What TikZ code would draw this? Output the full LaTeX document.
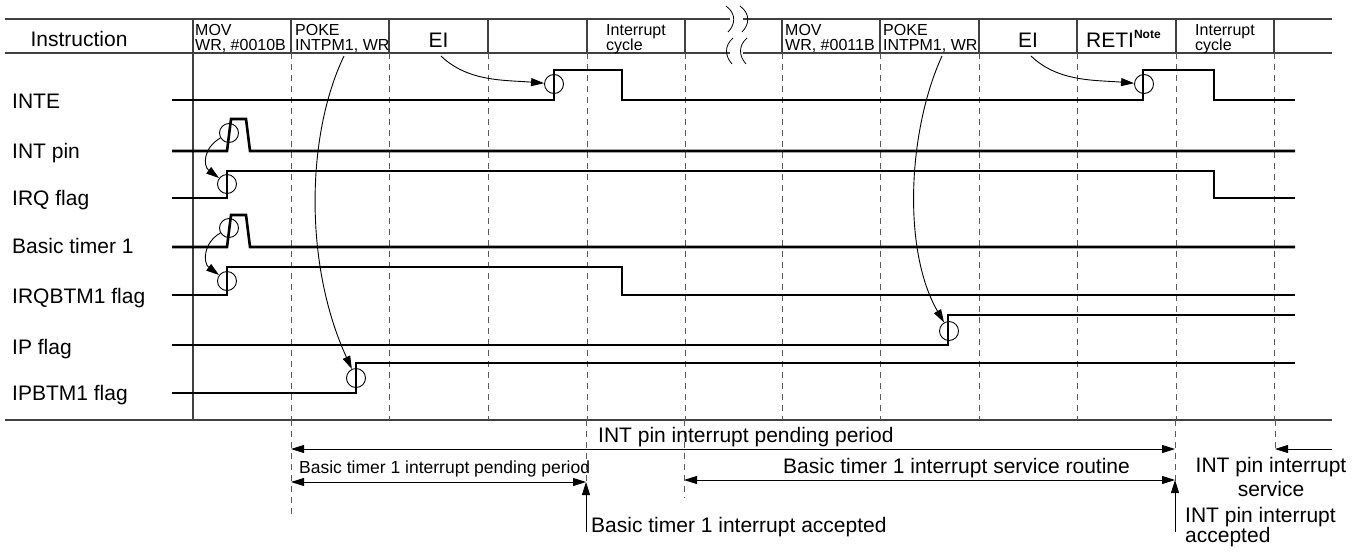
\documentclass[tikz,border=0pt]{standalone}
\usepackage{fontspec}
\setmainfont{Liberation Sans}
\usetikzlibrary{arrows.meta}
\begin{document}
\begin{tikzpicture}[x=1pt,y=-1pt,
  sig/.style={line width=2.6pt, line join=miter},
  grid/.style={line width=1.1pt, draw=black!75},
  dline/.style={draw=black!65, line width=1pt, dash pattern=on 6pt off 5pt},
  circ/.style={circle, draw, line width=0.9pt, minimum size=19pt, inner sep=0pt},
  arr/.style={-{Triangle[length=13pt,width=8pt]}, line width=0.9pt},
  darr/.style={{Triangle[length=13pt,width=8pt]}-{Triangle[length=13pt,width=8pt]}, line width=0.9pt},
  big/.style={font=\fontsize{21}{21}\selectfont, inner sep=0pt},
  small/.style={font=\fontsize{16}{15.5}\selectfont, inner sep=0pt, align=left},
  lbl/.style={font=\fontsize{21}{21}\selectfont, inner sep=0pt, anchor=base west}]
\useasboundingbox (0,0) rectangle (1364,552);

% ---------- header table ----------
\draw[grid] (5,19) -- (730,19) (743,19) -- (1332,19);
\draw[grid] (5,53) -- (730,53) (743,53) -- (1332,53);
\foreach \x in {291,389,488,587,685,782,880,979,1077,1176,1274}
  \draw[grid] (\x,19) -- (\x,53);
\draw[grid] (193,19) -- (193,420);
\draw[grid] (5,420) -- (1332,420);
% break marks
\foreach \d in {0,14}{
  \draw[line width=0.8pt] (726+\d,6) .. controls (737+\d,14) and (735+\d,25) .. (728+\d,32);
  \draw[line width=0.8pt] (733+\d,38) .. controls (724+\d,46) and (725+\d,56) .. (732+\d,64);
}

\node[big] (hInstr) at (79,38.5) {Instruction};
\node[small, anchor=north west] (hMov1) at (195,24) {MOV\\WR, \#0010B};
\node[small, anchor=north west] (hPoke1) at (295,24) {POKE\\INTPM1, WR};
\node[big] (hEI1) at (438.5,40) {EI};
\node[small, anchor=north] (hInt1) at (636,24) {Interrupt\\cycle};
\node[small, anchor=north west] (hMov2) at (785,24) {MOV\\WR, \#0011B};
\node[small, anchor=north west] (hPoke2) at (883,24) {POKE\\INTPM1, WR};
\node[big] (hEI2) at (1028,40) {EI};
\node[big, anchor=base west] (hReti) at (1086,47) {RETI\raisebox{9pt}{\fontsize{12}{12}\selectfont\bfseries Note}};
\node[small, anchor=north] (hInt2) at (1225,24) {Interrupt\\cycle};

% ---------- dashed columns ----------
\foreach \x in {291,389,488,587,685,782,880,979,1077,1176,1274}
  \draw[dline] (\x,53) -- (\x,420);
\draw[dline] (291,420) -- (291,518);
\draw[dline] (586,420) -- (586,482);
\draw[dline] (684,420) -- (684,498);
\draw[dline] (1175,420) -- (1175,482);
\draw[dline] (1275,420) -- (1275,452);

% ---------- signal labels ----------
\node[lbl] (lINTE) at (12,108.5) {INTE};
\node[lbl] (lINT) at (12,158.5) {INT pin};
\node[lbl] (lIRQ) at (12,205.5) {IRQ flag};
\node[lbl] (lBT) at (12,253.5) {Basic timer 1};
\node[lbl] (lIRQB) at (12,303.5) {IRQBTM1 flag};
\node[lbl] (lIP) at (12,354.5) {IP flag};
\node[lbl] (lIPB) at (12,400.5) {IPBTM1 flag};

% ---------- waveforms ----------
\draw[sig] (172,100) -- (554,100) -- (554,70) -- (622,70) -- (622,100) -- (1143,100) -- (1143,70) -- (1214,70) -- (1214,100) -- (1295,100);
\draw[sig] (172,151) -- (227,151) -- (231,119) -- (246,119) -- (250,151) -- (1295,151);
\draw[sig] (172,198) -- (227,198) -- (227,171) -- (1214,171) -- (1214,198) -- (1295,198);
\draw[sig] (172,247) -- (227,247) -- (231,215) -- (246,215) -- (250,247) -- (1295,247);
\draw[sig] (172,295) -- (227,295) -- (227,267) -- (622,267) -- (622,295) -- (1295,295);
\draw[sig] (172,345) -- (948,345) -- (948,315) -- (1295,315);
\draw[sig] (172,393) -- (356,393) -- (356,363) -- (1295,363);

% ---------- edge circles ----------
\node[circ] (cINTE1) at (554,84) {};
\node[circ] (cINTE2) at (1144,84) {};
\node[circ] (cINT) at (229,133) {};
\node[circ] (cIRQ) at (227,184) {};
\node[circ] (cBT) at (229,228) {};
\node[circ] (cIRQB) at (227,281) {};
\node[circ] (cIP) at (949,331) {};
\node[circ] (cIPB) at (356,378) {};

% ---------- cause arrows ----------
\coordinate (sEI1) at (441,56);
\coordinate (sEI2) at (1031,56);
\coordinate (sPoke1) at (344,56);
\coordinate (sPoke2) at (942,56);
\draw[arr] (sEI1) .. controls (468,82) and (505,80) .. (cINTE1);
\draw[arr] (sEI2) .. controls (1058,82) and (1095,80) .. (cINTE2);
\draw[arr] (cINT) .. controls (203,148) and (203,166) .. (cIRQ);
\draw[arr] (cBT) .. controls (203,243) and (203,263) .. (cIRQB);
\draw[arr] (sPoke1) .. controls (306,135) and (304,265) .. (cIPB);
\draw[arr] (sPoke2) .. controls (908,130) and (902,250) .. (cIP);

% ---------- bottom annotations ----------
\coordinate (a1l) at (291,449);
\coordinate (a1r) at (1175,449);
\coordinate (a2l) at (291,482);
\coordinate (a2r) at (586,482);
\coordinate (a3l) at (684,480);
\coordinate (a3r) at (1175,480);
\coordinate (a4s) at (1332,449);
\coordinate (a4e) at (1275,449);
\coordinate (u1s) at (586,532);
\coordinate (u2s) at (1175,532);
\draw[darr] (a1l) -- (a1r);
\draw[darr] (a2l) -- (a2r);
\draw[darr] (a3l) -- (a3r);
\draw[arr] (a4s) -- (a4e);
\draw[arr] (u1s) -- (a2r);
\draw[arr] (u2s) -- (a3r);

\node[big, anchor=base west] (tPend) at (598,442) {INT pin interrupt pending period};
\node[font=\fontsize{17.5}{17.5}\selectfont, inner sep=0pt, anchor=base west] (tBPend) at (299,473) {Basic timer 1 interrupt pending period};
\node[big, anchor=base west] (tBServ) at (783,473) {Basic timer 1 interrupt service routine};
\node[big, anchor=base west] (tBAcc) at (591,532) {Basic timer 1 interrupt accepted};
\node[big, align=center, anchor=north, font=\fontsize{21}{24}\selectfont] (tIServ) at (1271,457) {INT pin interrupt\\service};
\node[big, align=left, anchor=north west, font=\fontsize{21}{20.5}\selectfont] (tIAcc) at (1185,507) {INT pin interrupt\\accepted};
\end{tikzpicture}
\end{document}
